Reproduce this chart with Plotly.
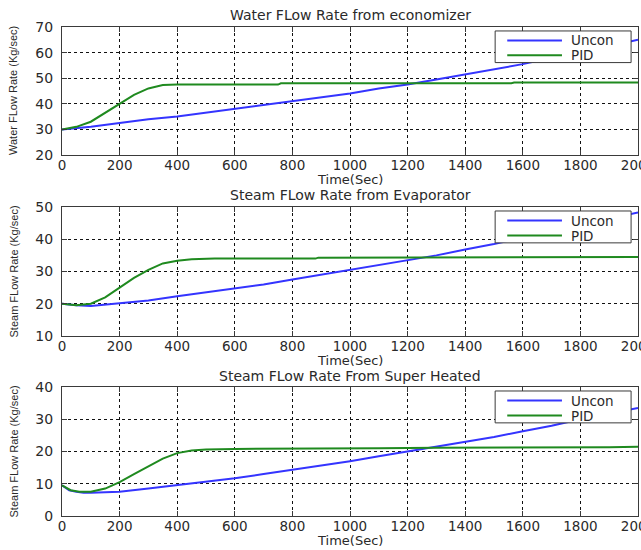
import plotly.graph_objects as go

# ---------------- data ----------------
t1_uncon = [0, 100, 200, 300, 400, 500, 600, 700, 800, 900, 1000, 1100, 1200, 1300, 1400, 1500, 1600, 1700, 1800, 1900, 2000]
w_uncon = [30, 31, 32.5, 34, 35, 36.5, 38, 39.5, 41, 42.5, 44, 46, 47.5, 49.5, 51.5, 53.5, 55.5, 58, 60, 62.5, 65]
t1_pid = [0, 50, 100, 150, 200, 250, 300, 350, 400, 500, 600, 750, 760, 1000, 1200, 1400, 1560, 1570, 1800, 2000]
w_pid = [30, 31, 33, 36.5, 40, 43.5, 46, 47.3, 47.5, 47.5, 47.5, 47.5, 48, 48, 48, 48, 48, 48.3, 48.3, 48.3]

t2_uncon = [0, 50, 100, 150, 200, 300, 400, 500, 600, 700, 800, 900, 1000, 1100, 1200, 1300, 1400, 1500, 1600, 1700, 1800, 1900, 2000]
e_uncon = [20, 19.5, 19.3, 19.7, 20, 21, 22.3, 23.5, 24.8, 26, 27.5, 29, 30.5, 32, 33.5, 35, 36.8, 38.5, 40.5, 42.5, 44.5, 46.5, 48.3]
t2_pid = [0, 50, 100, 150, 200, 250, 300, 350, 400, 450, 530, 700, 880, 890, 1200, 1600, 2000]
e_pid = [20, 19.5, 20, 22, 25, 28, 30.5, 32.5, 33.3, 33.8, 34, 34, 34, 34.3, 34.3, 34.5, 34.5]

t3_uncon = [0, 25, 50, 75, 100, 200, 300, 400, 500, 600, 700, 800, 900, 1000, 1100, 1200, 1300, 1400, 1500, 1600, 1700, 1800, 1900, 2000]
s_uncon = [9.5, 8, 7.5, 7.2, 7.2, 7.5, 8.5, 9.5, 10.5, 11.7, 13, 14.3, 15.5, 17, 18.5, 20, 21.3, 22.8, 24.5, 26.3, 28, 30, 31.8, 33.5]
t3_pid = [0, 30, 60, 100, 150, 200, 250, 300, 350, 400, 450, 500, 600, 1100, 1300, 1900, 2000]
s_pid = [9.5, 8, 7.5, 7.5, 8.5, 10.5, 13, 15.5, 17.8, 19.5, 20.3, 20.6, 20.8, 21, 21.2, 21.3, 21.5]

titles = ["Water FLow Rate from economizer", "Steam FLow Rate from Evaporator", "Steam FLow Rate From Super Heated"]
ylabels = ["Water FLow Rate (Kg/sec)", "Steam FLow Rate (Kg/sec)", "Steam FLow Rate (Kg/sec)"]
xlabel = "Time(Sec)"
series_names = ["Uncon", "PID"]
yranges = [[20, 70], [10, 50], [0, 40]]
x_ticks = [0, 200, 400, 600, 800, 1000, 1200, 1400, 1600, 1800, 2000]

BLUE = "#3434ff"
GREEN = "#1f8a1f"
COLORS = [BLUE, GREEN]
TXT = "#2a2a2a"
FONT = "DejaVu Sans, Verdana, sans-serif"
YFONT = "Liberation Sans, Arial, sans-serif"

series = [
    (t1_uncon, w_uncon, t1_pid, w_pid),
    (t2_uncon, e_uncon, t2_pid, e_pid),
    (t3_uncon, s_uncon, t3_pid, s_pid),
]

W, H = 641, 550
top, bottom = 27, 34
ph = H - top - bottom
panels_px = [(0, 128), (180, 309), (360, 489)]  # relative to plot-area top
domains = [[1 - b / ph, 1 - a / ph] for a, b in panels_px]
title_shift = [12, 12, 11]

fig = go.Figure()
for i, (tu, yu, tp, yp) in enumerate(series):
    n = "" if i == 0 else str(i + 1)
    fig.add_trace(go.Scatter(x=tu, y=yu, mode="lines", name=series_names[0],
                             line=dict(color=BLUE, width=2), xaxis="x" + n, yaxis="y" + n, showlegend=False))
    fig.add_trace(go.Scatter(x=tp, y=yp, mode="lines", name=series_names[1],
                             line=dict(color=GREEN, width=2), xaxis="x" + n, yaxis="y" + n, showlegend=False))

layout = dict(
    width=W, height=H,
    margin=dict(l=62, r=3, t=top, b=bottom, autoexpand=False),
    paper_bgcolor="white", plot_bgcolor="white",
    font=dict(family=FONT, color=TXT, size=14),
    showlegend=False,
)

# legend box geometry (fractions of each panel's domain)
LEG_X0, LEG_X1, LEG_Y0, LEG_Y1 = 0.752, 0.988, 0.722, 0.969
LINE_X0, LINE_X1, TEXT_X = 0.773, 0.868, 0.881
ROWS = [0.895, 0.779]

annotations = []
shapes = []
for i in range(3):
    n = "" if i == 0 else str(i + 1)
    axcommon = dict(showline=True, linecolor="#3a3a3a", linewidth=1, mirror="ticks",
                    ticks="inside", ticklen=5, tickcolor="#3a3a3a", automargin=False,
                    showgrid=True, gridcolor="#111", gridwidth=1, griddash="3px,3px",
                    zeroline=False)
    layout["xaxis" + n] = dict(axcommon, range=[0, 2000], tickvals=x_ticks, anchor="y" + n,
                               domain=[0, 1], ticklabelstandoff=-2, ticklabeloverflow="allow",
                               tickfont=dict(size=13.5, family=FONT, color=TXT))
    layout["yaxis" + n] = dict(axcommon, range=yranges[i], dtick=10, anchor="x" + n,
                               domain=domains[i], ticklabelstandoff=5,
                               tickfont=dict(size=14, family=FONT, color=TXT))
    xd, yd = "x" + n + " domain", "y" + n + " domain"
    annotations.append(dict(text=titles[i], x=0.5, xref=xd, y=1, yref=yd, yanchor="middle",
                            yshift=title_shift[i], showarrow=False,
                            font=dict(size=14, family=FONT, color=TXT)))
    annotations.append(dict(text=xlabel, x=0.5, xref=xd, y=0, yref=yd, yanchor="middle",
                            yshift=-24, showarrow=False, font=dict(size=13, family=FONT, color=TXT)))
    annotations.append(dict(text=ylabels[i], x=0, xref=xd, y=0.5, yref=yd, xanchor="center",
                            yanchor="middle", xshift=-49, textangle=-90, showarrow=False,
                            font=dict(size=11, family=YFONT, color=TXT)))
    shapes.append(dict(type="rect", xref=xd, yref=yd, x0=LEG_X0, x1=LEG_X1, y0=LEG_Y0, y1=LEG_Y1,
                       fillcolor="white", line=dict(color="#3a3a3a", width=1), layer="above"))
    for k, yy in enumerate(ROWS):
        shapes.append(dict(type="line", xref=xd, yref=yd, x0=LINE_X0, x1=LINE_X1, y0=yy, y1=yy,
                           line=dict(color=COLORS[k], width=2), layer="above"))
        annotations.append(dict(text=series_names[k], x=TEXT_X, xref=xd, y=yy, yref=yd,
                                xanchor="left", yanchor="middle", showarrow=False,
                                font=dict(size=13.5, family=FONT, color=TXT)))

layout["annotations"] = annotations
layout["shapes"] = shapes
fig.update_layout(**layout)

fig.write_html("out.html", config={"displayModeBar": False},
               post_script="document.body.style.margin='0';document.body.style.overflow='hidden';")
